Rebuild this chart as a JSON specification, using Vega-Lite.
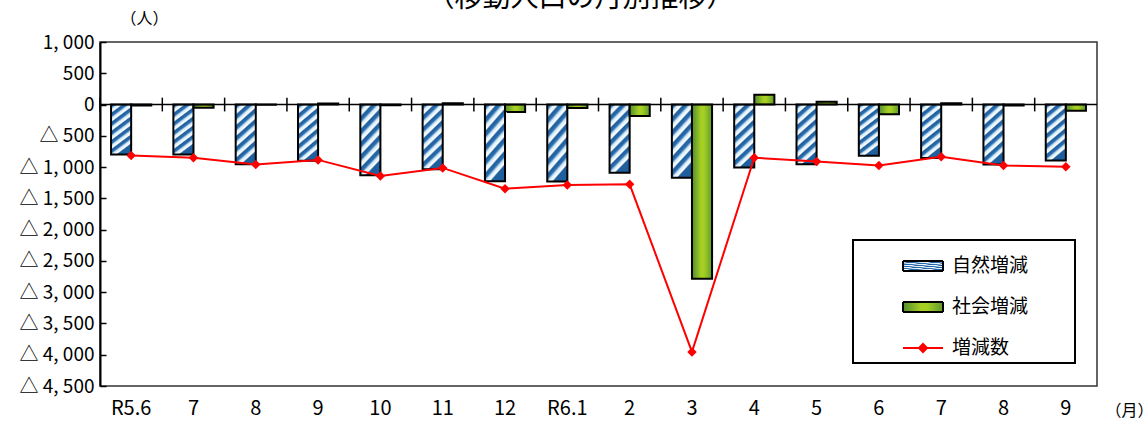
{
  "$schema": "https://vega.github.io/schema/vega-lite/v6.json",
  "description": "移動人口の月別推移（自然増減・社会増減・増減数）",
  "width": 997,
  "height": 344,
  "autosize": {"type": "none"},
  "padding": {"left": 100, "top": 42, "right": 51, "bottom": 36},
  "title": {
    "text": "（移動人口の月別推移）",
    "fontSize": 28,
    "fontWeight": "normal",
    "anchor": "middle",
    "baseline": "alphabetic",
    "dx": -18,
    "dy": 25,
    "offset": 0
  },
  "data": {
    "values": [
      {"month": "R5.6", "type": "自然増減", "value": -800},
      {"month": "R5.6", "type": "社会増減", "value": -15},
      {"month": "R5.6", "type": "増減数", "value": -815},
      {"month": "R5.7", "type": "自然増減", "value": -800},
      {"month": "R5.7", "type": "社会増減", "value": -50},
      {"month": "R5.7", "type": "増減数", "value": -850},
      {"month": "R5.8", "type": "自然増減", "value": -955},
      {"month": "R5.8", "type": "社会増減", "value": -5},
      {"month": "R5.8", "type": "増減数", "value": -960},
      {"month": "R5.9", "type": "自然増減", "value": -900},
      {"month": "R5.9", "type": "社会増減", "value": 15},
      {"month": "R5.9", "type": "増減数", "value": -885},
      {"month": "R5.10", "type": "自然増減", "value": -1130},
      {"month": "R5.10", "type": "社会増減", "value": -12},
      {"month": "R5.10", "type": "増減数", "value": -1142},
      {"month": "R5.11", "type": "自然増減", "value": -1035},
      {"month": "R5.11", "type": "社会増減", "value": 22},
      {"month": "R5.11", "type": "増減数", "value": -1013},
      {"month": "R5.12", "type": "自然増減", "value": -1225},
      {"month": "R5.12", "type": "社会増減", "value": -120},
      {"month": "R5.12", "type": "増減数", "value": -1345},
      {"month": "R6.1", "type": "自然増減", "value": -1230},
      {"month": "R6.1", "type": "社会増減", "value": -55},
      {"month": "R6.1", "type": "増減数", "value": -1285},
      {"month": "R6.2", "type": "自然増減", "value": -1090},
      {"month": "R6.2", "type": "社会増減", "value": -185},
      {"month": "R6.2", "type": "増減数", "value": -1275},
      {"month": "R6.3", "type": "自然増減", "value": -1170},
      {"month": "R6.3", "type": "社会増減", "value": -2785},
      {"month": "R6.3", "type": "増減数", "value": -3955},
      {"month": "R6.4", "type": "自然増減", "value": -1005},
      {"month": "R6.4", "type": "社会増減", "value": 155},
      {"month": "R6.4", "type": "増減数", "value": -850},
      {"month": "R6.5", "type": "自然増減", "value": -955},
      {"month": "R6.5", "type": "社会増減", "value": 45},
      {"month": "R6.5", "type": "増減数", "value": -910},
      {"month": "R6.6", "type": "自然増減", "value": -820},
      {"month": "R6.6", "type": "社会増減", "value": -155},
      {"month": "R6.6", "type": "増減数", "value": -975},
      {"month": "R6.7", "type": "自然増減", "value": -855},
      {"month": "R6.7", "type": "社会増減", "value": 20},
      {"month": "R6.7", "type": "増減数", "value": -835},
      {"month": "R6.8", "type": "自然増減", "value": -958},
      {"month": "R6.8", "type": "社会増減", "value": -16},
      {"month": "R6.8", "type": "増減数", "value": -974},
      {"month": "R6.9", "type": "自然増減", "value": -895},
      {"month": "R6.9", "type": "社会増減", "value": -100},
      {"month": "R6.9", "type": "増減数", "value": -995}
    ]
  },
  "resolve": {
    "scale": {"strokeDash": "independent"},
    "legend": {"strokeDash": "independent"}
  },
  "layer": [
    {
      "transform": [{"filter": "datum.type === '自然増減'"}],
      "mark": {
        "type": "bar",
        "stroke": "black",
        "strokeWidth": 2,
        "fill": {
          "gradient": "linear",
          "x1": 0, "y1": 0, "x2": 0.3, "y2": 1,
          "stops": [
            {"offset": 0, "color": "#1f5f9e"},
            {"offset": 0.05, "color": "#2a6cad"},
            {"offset": 0.09, "color": "#d2eaf8"},
            {"offset": 0.14, "color": "#ffffff"},
            {"offset": 0.1667, "color": "#1f5f9e"},
            {"offset": 0.2167, "color": "#2a6cad"},
            {"offset": 0.2567, "color": "#d2eaf8"},
            {"offset": 0.3067, "color": "#ffffff"},
            {"offset": 0.3333, "color": "#1f5f9e"},
            {"offset": 0.3833, "color": "#2a6cad"},
            {"offset": 0.4233, "color": "#d2eaf8"},
            {"offset": 0.4733, "color": "#ffffff"},
            {"offset": 0.5, "color": "#1f5f9e"},
            {"offset": 0.55, "color": "#2a6cad"},
            {"offset": 0.59, "color": "#d2eaf8"},
            {"offset": 0.64, "color": "#ffffff"},
            {"offset": 0.6667, "color": "#1f5f9e"},
            {"offset": 0.7167, "color": "#2a6cad"},
            {"offset": 0.7567, "color": "#d2eaf8"},
            {"offset": 0.8067, "color": "#ffffff"},
            {"offset": 0.8333, "color": "#1f5f9e"},
            {"offset": 0.8833, "color": "#2a6cad"},
            {"offset": 0.9233, "color": "#d2eaf8"},
            {"offset": 0.9733, "color": "#ffffff"},
            {"offset": 1, "color": "#1f5f9e"}
          ]
        }
      },
      "encoding": {
        "x": {
          "field": "month",
          "type": "nominal",
          "title": "（月）",
          "scale": {
            "domain": ["R5.6", "R5.7", "R5.8", "R5.9", "R5.10", "R5.11", "R5.12", "R6.1", "R6.2", "R6.3", "R6.4", "R6.5", "R6.6", "R6.7", "R6.8", "R6.9"],
            "paddingInner": 0,
            "paddingOuter": 0
          },
          "axis": {
            "orient": "bottom",
            "domain": false,
            "ticks": false,
            "labelAngle": 0,
            "labelPadding": 12,
            "labelFontSize": 20,
            "labelColor": "black",
            "labelExpr": "indexof(['R5.6', 'R6.1'], datum.value) >= 0 ? datum.value : split(datum.value, '.')[1]",
            "titleX": 1005,
            "titleY": 24,
            "titleAlign": "left",
            "titleBaseline": "middle",
            "titleFontSize": 16,
            "titleFontWeight": "normal",
            "titleColor": "black"
          }
        },
        "xOffset": {
          "field": "type",
          "type": "nominal",
          "scale": {"domain": ["自然増減", "社会増減"], "paddingInner": 0, "paddingOuter": 0.55}
        },
        "y": {
          "field": "value",
          "type": "quantitative",
          "title": "（人）",
          "scale": {"domain": [-4500, 1000], "nice": false, "zero": false},
          "axis": {
            "values": [1000, 500, 0, -500, -1000, -1500, -2000, -2500, -3000, -3500, -4000, -4500],
            "tickCount": 20,
            "labelExpr": "datum.value < 0 ? '△ ' + replace(format(-datum.value, ','), ',', ', ') : replace(format(datum.value, ','), ',', ', ')",
            "labelOverlap": false,
            "labelFlush": false,
            "labelBound": false,
            "grid": false,
            "tickSize": -6,
            "tickColor": "black",
            "tickWidth": 1.5,
            "domainColor": "black",
            "domainWidth": 2,
            "labelPadding": 12,
            "labelFontSize": 19,
            "labelColor": "black",
            "titleAngle": 0,
            "titleX": 20,
            "titleY": -24,
            "titleAlign": "left",
            "titleBaseline": "middle",
            "titleFontSize": 16,
            "titleFontWeight": "normal",
            "titleColor": "black"
          }
        },
        "strokeDash": {
          "field": "type",
          "type": "nominal",
          "scale": {"domain": ["自然増減"], "range": [[1, 0]]},
          "legend": {
            "title": null,
            "orient": "none",
            "legendX": 802,
            "legendY": 203,
            "padding": 0,
            "symbolType": "M-1,-0.25H1V0.25H-1Z",
            "symbolSize": 1600,
            "symbolStrokeWidth": 2,
            "symbolOpacity": 1,
            "labelFontSize": 19,
            "labelOffset": 8,
            "labelColor": "black"
          }
        }
      }
    },
    {
      "transform": [{"filter": "datum.type === '社会増減'"}],
      "mark": {
        "type": "bar",
        "stroke": "black",
        "strokeWidth": 2,
        "fill": {
          "gradient": "linear",
          "x1": 0, "y1": 0, "x2": 1, "y2": 0,
          "stops": [
            {"offset": 0, "color": "#4f8c30"},
            {"offset": 0.45, "color": "#a6cf24"},
            {"offset": 0.6, "color": "#a6cf24"},
            {"offset": 1, "color": "#5d9a2c"}
          ]
        }
      },
      "encoding": {
        "x": {"field": "month", "type": "nominal", "title": "（月）"},
        "xOffset": {"field": "type", "type": "nominal"},
        "y": {"field": "value", "type": "quantitative", "title": "（人）"},
        "strokeDash": {
          "field": "type",
          "type": "nominal",
          "scale": {"domain": ["社会増減"], "range": [[1, 0]]},
          "legend": {
            "title": null,
            "orient": "none",
            "legendX": 753,
            "legendY": 198,
            "padding": 46,
            "strokeColor": "black",
            "fillColor": "transparent",
            "symbolOffset": 3,
            "symbolType": "M-1,-0.25H1V0.25H-1Z",
            "symbolSize": 1600,
            "symbolStrokeWidth": 2,
            "symbolOpacity": 1,
            "labelFontSize": 19,
            "labelOffset": 8,
            "labelColor": "black",
            "labelExpr": "datum.label + '      '"
          }
        }
      }
    },
    {
      "data": {"values": [{"zero": 0}]},
      "mark": {"type": "rule", "color": "black", "strokeWidth": 1.5},
      "encoding": {"y": {"field": "zero", "type": "quantitative", "title": "（人）"}}
    },
    {
      "transform": [{"filter": "datum.type === '増減数'"}],
      "mark": {"type": "rule", "color": "black", "strokeWidth": 1.5},
      "encoding": {
        "x": {"field": "month", "type": "nominal", "title": "（月）", "bandPosition": 0},
        "y": {"datum": 110},
        "y2": {"datum": -110}
      }
    },
    {
      "transform": [{"filter": "datum.type === '増減数'"}],
      "mark": {"type": "line", "color": "#ff0000", "strokeWidth": 2},
      "encoding": {
        "x": {"field": "month", "type": "nominal", "title": "（月）"},
        "y": {"field": "value", "type": "quantitative", "title": "（人）"}
      }
    },
    {
      "transform": [{"filter": "datum.type === '増減数'"}],
      "mark": {"type": "point", "shape": "diamond", "filled": true, "size": 90, "opacity": 1, "color": "#ff0000"},
      "encoding": {
        "x": {"field": "month", "type": "nominal", "title": "（月）"},
        "y": {"field": "value", "type": "quantitative", "title": "（人）"},
        "strokeDash": {
          "field": "type",
          "type": "nominal",
          "scale": {"domain": ["増減数"], "range": [[1, 0]]},
          "legend": {
            "title": null,
            "orient": "none",
            "legendX": 802,
            "legendY": 285,
            "padding": 0,
            "symbolType": "M-1,-0.05H1V0.05H-1Z M0,-0.27L0.27,0L0,0.27L-0.27,0Z",
            "symbolSize": 1600,
            "symbolOpacity": 1,
            "symbolFillColor": "#ff0000",
            "symbolStrokeColor": "transparent",
            "labelFontSize": 19,
            "labelOffset": 8,
            "labelColor": "black"
          }
        }
      }
    }
  ],
  "config": {
    "font": "Noto Sans CJK JP",
    "view": {"stroke": "#333333", "strokeWidth": 1.5},
    "background": "white",
    "legend": {"strokeWidth": 2}
  }
}
